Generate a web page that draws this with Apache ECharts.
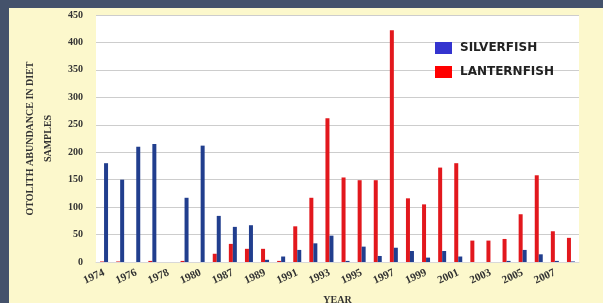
<!DOCTYPE html>
<html>
<head>
<meta charset="utf-8">
<script src="https://cdn.jsdelivr.net/npm/echarts@6/dist/echarts.min.js"></script>
<style>
html,body{margin:0;padding:0;width:603px;height:303px;overflow:hidden;background:#44526b;}
#frame{position:absolute;left:9px;top:8px;width:594px;height:295px;background:#fcf8cc;}
#chart{width:594px;height:295px;}
</style>
</head>
<body>
<div id="frame"><div id="chart"></div></div>
<script>
var years = ['1974','1975','1976','1977','1978','1979','1980','1986','1987','1988','1989','1990','1991','1992','1993','1994','1995','1996','1997','1998','1999','2000','2001','2002','2003','2004','2005','2006','2007','2008'];
var silverfish = [180,150,210,215,0,117,212,84,64,67,4,10,22,34,48,2,28,11,26,20,8,20,10,0,0,2,22,14,2,1];
var lanternfish = [1,1,0,2,0,2,0,15,33,24,24,2,65,117,262,154,149,149,422,116,105,172,180,39,39,42,87,158,56,44];
var yTicks = {min:0, max:450, step:50};

var chart = echarts.init(document.getElementById('chart'), null, {renderer:'canvas'});
var serif = 'Liberation Serif';
chart.setOption({
  animation:false,
  backgroundColor:'transparent',
  grid:{left:87, top:7, right:24, bottom:41, show:true, backgroundColor:'#ffffff', borderWidth:0, outerBoundsMode:'none', containLabel:false},
  legend:{
    orient:'vertical', left:421, top:29, itemWidth:17, itemHeight:12, itemGap:12,
    icon:'rect',
    textStyle:{fontFamily:'DejaVu Sans', fontWeight:'bold', fontSize:12, color:'#222', padding:[0,0,0,3]},
    data:[
      {name:'SILVERFISH', itemStyle:{color:'#3434cf'}},
      {name:'LANTERNFISH', itemStyle:{color:'#ff0000'}}
    ]
  },
  xAxis:{
    type:'category', data:years,
    name:'YEAR', nameLocation:'middle', nameGap:33,
    nameTextStyle:{fontFamily:serif, fontWeight:'bold', fontSize:10, color:'#333'},
    axisLine:{show:true, lineStyle:{color:'#d8d8d8'}},
    axisTick:{show:false},
    axisLabel:{interval:1, rotate:25, margin:10, fontFamily:serif, fontWeight:'bold', fontSize:11, color:'#333'}
  },
  yAxis:{
    type:'value', min:yTicks.min, max:yTicks.max, interval:yTicks.step,
    name:'OTOLITH ABUNDANCE IN DIET\nSAMPLES', nameLocation:'middle', nameGap:39, nameRotate:90,
    nameTextStyle:{fontFamily:serif, fontWeight:'bold', fontSize:10, color:'#333', lineHeight:18, align:'center'},
    axisLine:{show:false}, axisTick:{show:false},
    axisLabel:{margin:13, fontFamily:serif, fontWeight:'bold', fontSize:10, color:'#333'},
    splitLine:{lineStyle:{color:'#cdcdcd', width:1}}
  },
  series:[
    {name:'LANTERNFISH', type:'bar', data:lanternfish, barWidth:4, barGap:'0%', itemStyle:{color:'#e2181d'}},
    {name:'SILVERFISH', type:'bar', data:silverfish, barWidth:4, barGap:'0%', itemStyle:{color:'#213e8e'}}
  ]
});
</script>
</body>
</html>
